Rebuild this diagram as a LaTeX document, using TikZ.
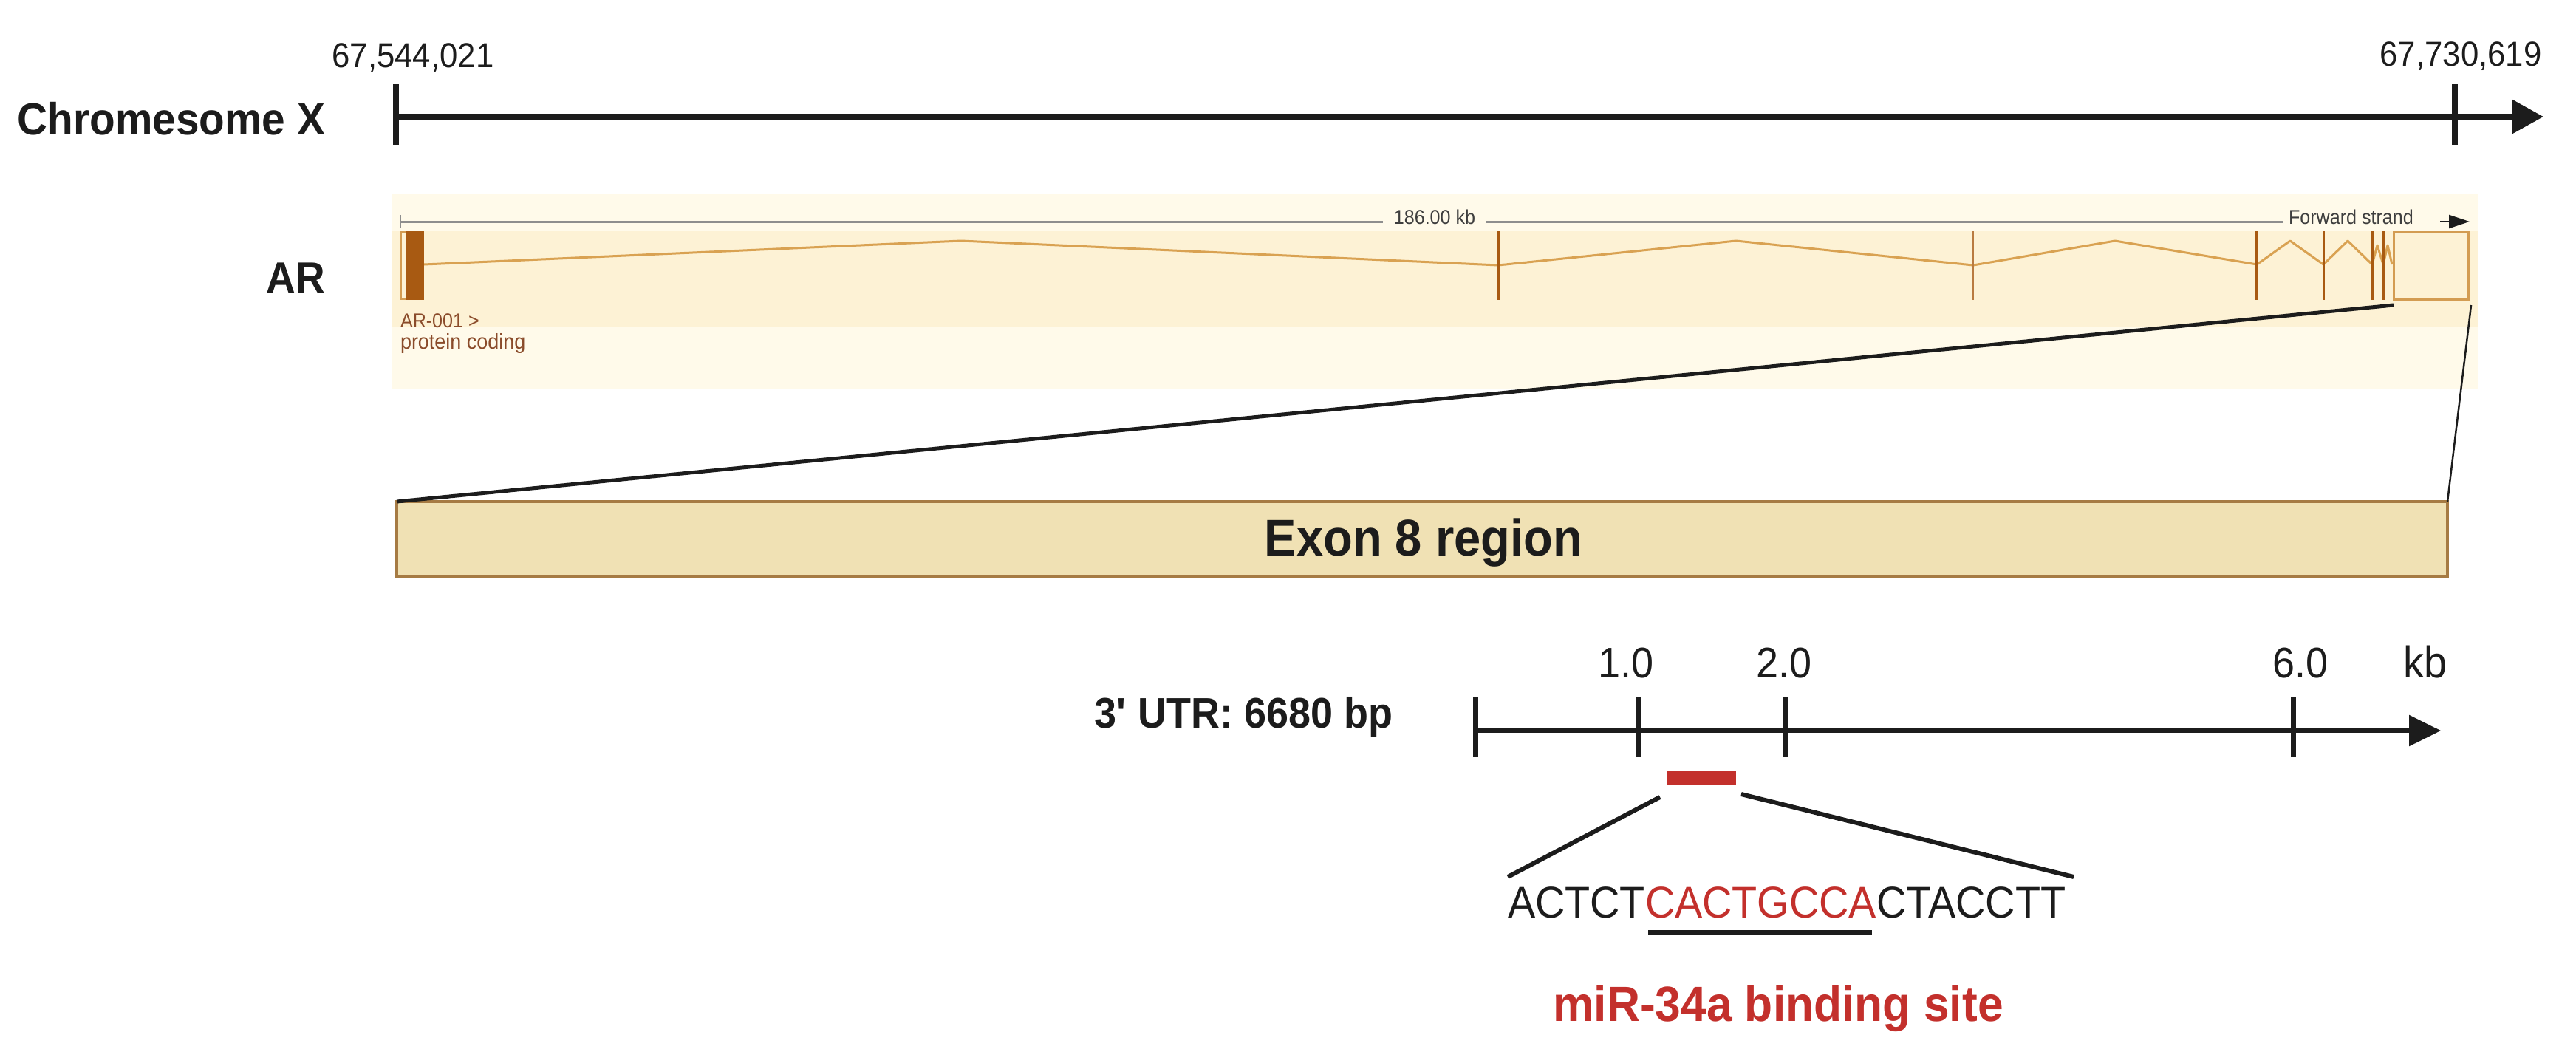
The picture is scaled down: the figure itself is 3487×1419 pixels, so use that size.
\documentclass[tikz,border=0pt]{standalone}
\usepackage{fontspec}
\setmainfont{Liberation Sans}[FakeStretch=0.93]
\usetikzlibrary{arrows.meta}
\definecolor{ink}{HTML}{1C1C1C}
\definecolor{bgout}{HTML}{FFFAEA}
\definecolor{bgin}{HTML}{FDF2D5}
\definecolor{exonc}{HTML}{A85A12}
\definecolor{intronc}{HTML}{D9A252}
\definecolor{utrboxc}{HTML}{D39C52}
\definecolor{enstext}{HTML}{8A4B2A}
\definecolor{scalec}{HTML}{8E8E8E}
\definecolor{exfill}{HTML}{F0E1B4}
\definecolor{exline}{HTML}{A67B44}
\definecolor{mirred}{HTML}{C3302C}
\newcommand\fsz[1]{\fontsize{#1}{#1}\selectfont}
\begin{document}
\begin{tikzpicture}[x=1pt,y=-1pt,
  lab/.style={inner sep=0pt, outer sep=0pt, text=ink},
  axisline/.style={draw=ink, line width=8pt},
  tickline/.style={draw=ink, line width=8pt},
  utrtick/.style={draw=ink, line width=7pt},
  exonline/.style={draw=exonc, line width=3pt},
  zoomline/.style={draw=ink, line width=6pt}]
\useasboundingbox (0,0) rectangle (3487,1419);
\fill[white] (0,0) rectangle (3487,1419);

% ---------- chromosome axis ----------
\node[lab, anchor=base east, font=\bfseries\fsz{61}] (chrlab) at (440,182) {Chromesome X};
\node[lab, anchor=base, font=\fsz{47}] (c0) at (559,91) {67,544,021};
\node[lab, anchor=base, font=\fsz{47}] (c1) at (3331,89) {67,730,619};
\coordinate (cs) at (536,158);
\coordinate (ce) at (3443,158);
\draw[axisline, -{Triangle[length=42pt,width=44pt]}] (cs) -- (ce);
\draw[tickline] (536,114) -- (536,196);
\draw[tickline] (3323,114) -- (3323,196);

% ---------- gene panel ----------
\node[lab, anchor=base east, font=\bfseries\fsz{59}] (arlab) at (440,396) {AR};
\fill[bgout] (530,263) rectangle (3354,527);
\fill[bgin] (530,313) rectangle (3354,443);
\draw[scalec, line width=3pt] (542,300) -- (1872,300) (2012,300) -- (3090,300);
\draw[scalec, line width=2pt] (542,291) -- (542,309);
\node[lab, text=ink!85, font=\fsz{27}] (kb186) at (1942,294) {186.00 kb};
\node[lab, text=ink!85, anchor=west, font=\fsz{27}] (fwd) at (3098,294) {Forward strand};
\coordinate (fa0) at (3303,300);
\coordinate (fa1) at (3343,300);
\draw[ink, line width=2pt, -{Triangle[length=28pt,width=18pt]}] (fa0) -- (fa1);

\draw[intronc, line width=3pt, line join=round]
  (574,358) -- (1301,326) -- (2028,359) -- (2350,326) -- (2671,359)
  -- (2863,326) -- (3055,358) -- (3100,326) -- (3145,358) -- (3178,326)
  -- (3211,358) -- (3218,332) -- (3226,358) -- (3232,332) -- (3238,358);
\draw[utrboxc, line width=2pt] (543,314) rectangle (550,405);
\fill[exonc] (550,313) rectangle (574,406);
\draw[exonline] (2028,313) -- (2028,406);
\draw[exonline, draw=exonc!80, line width=2.5pt] (2671,313) -- (2671,406);
\draw[exonline, line width=4pt] (3055,313) -- (3055,406);
\draw[exonline] (3145,313) -- (3145,406);
\draw[exonline] (3211,313) -- (3211,406);
\draw[exonline] (3226,313) -- (3226,406);
\node[draw=utrboxc, line width=3pt, minimum width=101pt, minimum height=91pt,
      inner sep=0pt, outer sep=0pt, anchor=north west] (lastex) at (3240,314) {};
\node[lab, text=enstext, anchor=base west, font=\fsz{27}] (ar001) at (542,443) {AR-001 >};
\node[lab, text=enstext, anchor=base west, font=\fsz{29}] (pcod) at (542,472) {protein coding};

% ---------- exon 8 region ----------
\node[draw=exline, fill=exfill, line width=4pt, minimum width=2776pt, minimum height=101pt,
      inner sep=0pt, outer sep=0pt] (exon8) at (1925,729.5) {};
\coordinate (zl) at (3240,413);
\coordinate (zr) at (3345,413);
\draw[ink, line width=5pt] (zl) -- (exon8.north west);
\draw[ink, line width=2.5pt] (zr) -- (exon8.north east);
\node[lab, anchor=base, font=\bfseries\fsz{70}] (exlab) at (1927,752) {Exon 8 region};

% ---------- 3' UTR ----------
\node[lab, anchor=base east, font=\bfseries\fsz{58}] (utrlab) at (1885,985) {3\textquotesingle{} UTR: 6680 bp};
\coordinate (us) at (1997,989);
\coordinate (ue) at (3304,989);
\draw[axisline, line width=6pt, -{Triangle[length=43pt,width=41pt]}] (us) -- (ue);
\draw[utrtick] (1997,943) -- (1997,1025);
\draw[utrtick] (2218,943) -- (2218,1025);
\draw[utrtick] (2416,943) -- (2416,1025);
\draw[utrtick] (3104,943) -- (3104,1025);
\node[lab, anchor=base, font=\fsz{58}] (t1) at (2201,917) {1.0};
\node[lab, anchor=base, font=\fsz{58}] (t2) at (2415,917) {2.0};
\node[lab, anchor=base, font=\fsz{58}] (t6) at (3114,917) {6.0};
\node[lab, anchor=base, font=\fsz{60}] (tkb) at (3283,917) {kb};

\node[fill=mirred, minimum width=93pt, minimum height=18pt, inner sep=0pt, outer sep=0pt] (site) at (2303.5,1053) {};
\coordinate (sl) at (2247,1079);
\coordinate (sr) at (2357,1075);
\coordinate (ql) at (2041,1187);
\coordinate (qr) at (2807,1187);
\draw[zoomline] (sl) -- (ql);
\draw[zoomline] (sr) -- (qr);
\node[lab, anchor=base west, font=\fsz{60}] (seq) at (2041,1242) {ACTCT\textcolor{mirred}{CACTGCCA}CTACCTT};
\coordinate (u0) at (2231,1262);
\coordinate (u1) at (2534,1262);
\draw[ink, line width=7pt] (u0) -- (u1);
\node[lab, text=mirred, anchor=base, font=\bfseries\fsz{67}] (mir) at (2407,1382) {miR-34a binding site};
\end{tikzpicture}
\end{document}
